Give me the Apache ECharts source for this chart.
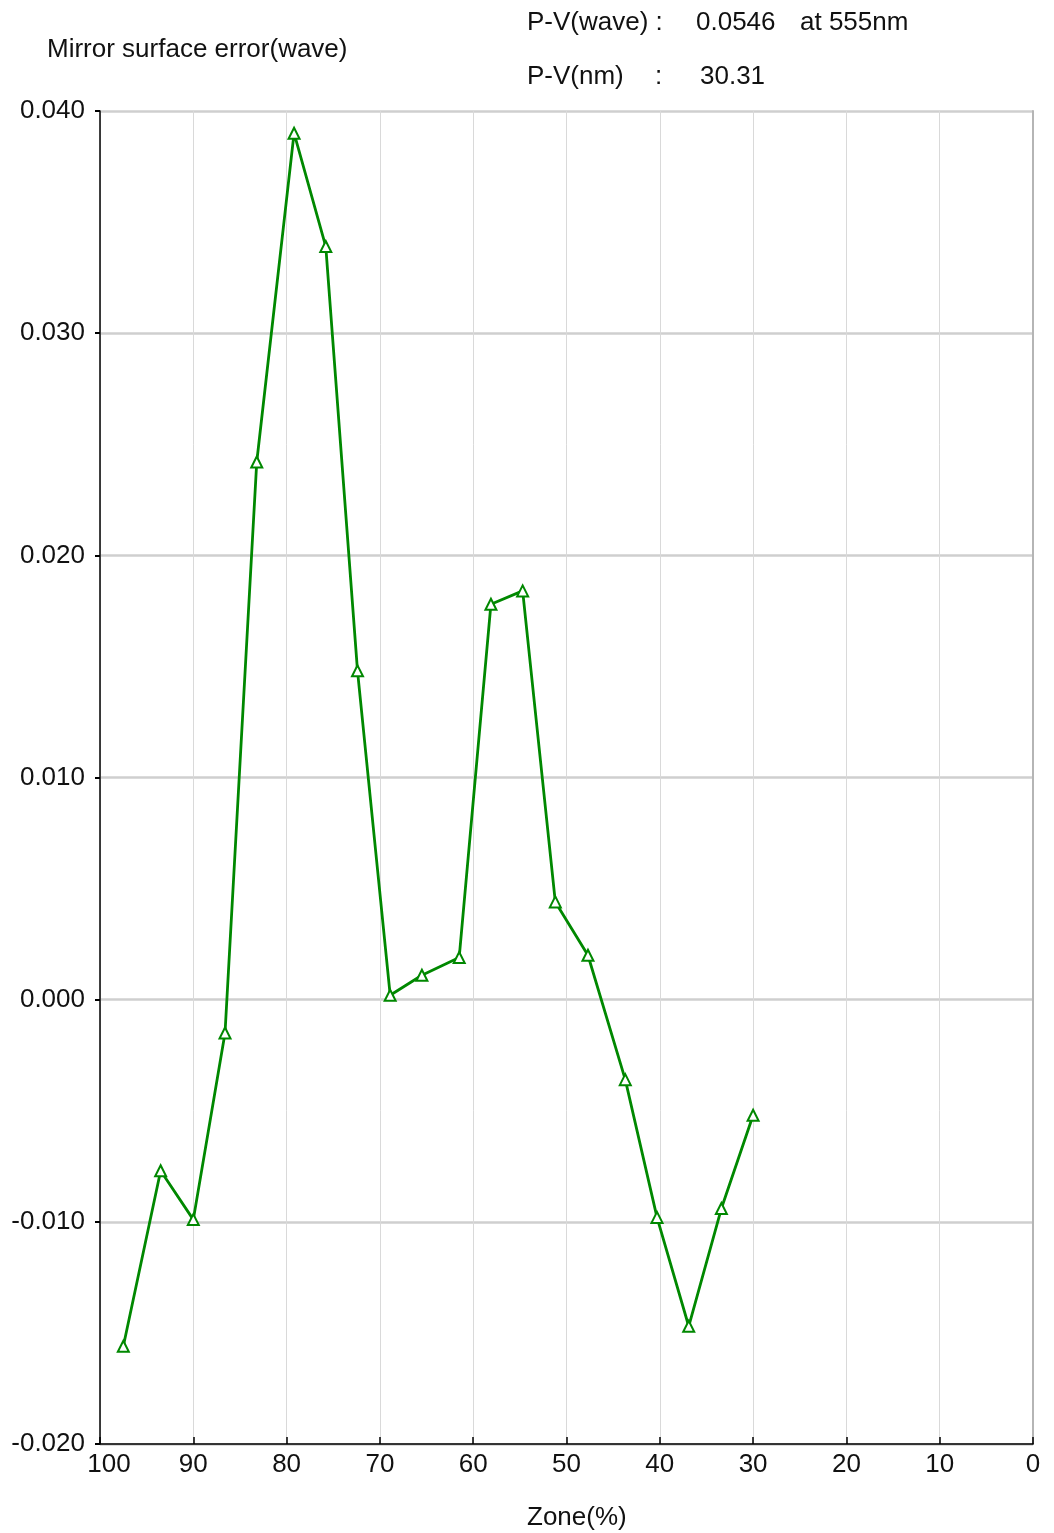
<!DOCTYPE html>
<html>
<head>
<meta charset="utf-8">
<script src="https://cdn.jsdelivr.net/npm/echarts@6/dist/echarts.min.js"></script>
<style>
  html, body { margin: 0; padding: 0; background: #fff; }
  #chart { width: 1054px; height: 1533px; }
</style>
</head>
<body>
<div id="chart"></div>
<script>
// 镜面误差曲线：横轴 Zone(%) 从 100 到 0（反向），纵轴误差（wave）
const zone = [97.5, 93.5, 90.0, 86.6, 83.2, 79.2, 75.8, 72.4, 68.9, 65.5,
              61.5, 58.1, 54.7, 51.2, 47.7, 43.7, 40.3, 36.9, 33.4, 30.0];
const surfaceError = [-0.0156, -0.0077, -0.0099, -0.0015, 0.0242, 0.0390, 0.0339, 0.0148, 0.0002, 0.0011,
                      0.0019, 0.0178, 0.0184, 0.0044, 0.0020, -0.0036, -0.0098, -0.0147, -0.0094, -0.0052];
const xTicks = [100, 90, 80, 70, 60, 50, 40, 30, 20, 10, 0];
const yTicks = [-0.020, -0.010, 0.000, 0.010, 0.020, 0.030, 0.040];

const FONT = "'Liberation Sans', Arial, sans-serif";
const FS = 26;
const TXT = '#111';

const chart = echarts.init(document.getElementById('chart'));
chart.setOption({
  animation: false,
  backgroundColor: '#fff',
  textStyle: { fontFamily: FONT },
  grid: { left: 100, right: 21, top: 111, bottom: 89 },
  xAxis: {
    type: 'value',
    inverse: true,
    min: xTicks[xTicks.length - 1],
    max: xTicks[0],
    interval: 10,
    axisLine: { onZero: false, lineStyle: { color: '#000', width: 1.5 } },
    axisTick: { inside: true, length: 7, lineStyle: { color: '#000', width: 1.5 } },
    axisLabel: {
      color: TXT, fontSize: FS, margin: 8,
      formatter: (v) => v === 100 ? '{first|100}' : String(v),
      rich: { first: { fontSize: FS, color: TXT, padding: [0, 0, 0, 18] } },
    },
    splitLine: { show: true, lineStyle: { color: '#d9d9d9', width: 1 } },
  },
  yAxis: [{
    type: 'value',
    position: 'left',
    min: yTicks[0],
    max: yTicks[yTicks.length - 1],
    interval: 0.01,
    axisLine: { show: true, onZero: false, lineStyle: { color: '#000', width: 1.5 } },
    axisTick: { show: true, length: 5, lineStyle: { color: '#000', width: 2 } },
    axisLabel: { color: TXT, fontSize: FS, margin: 15, formatter: (v) => v.toFixed(3) },
    splitLine: { show: true, lineStyle: { color: '#cfcfcf', width: 2.5 } },
  }, {
    type: 'value',
    position: 'right',
    min: yTicks[0],
    max: yTicks[yTicks.length - 1],
    axisLine: { show: true, onZero: false, lineStyle: { color: '#b5b5b5', width: 2 } },
    axisTick: { show: false },
    axisLabel: { show: false },
    splitLine: { show: false },
  }],
  graphic: [
    { type: 'text', left: 47, top: 37, style: { text: 'Mirror surface error(wave)', font: FS + 'px ' + FONT, fill: TXT } },
    { type: 'text', left: 527, top: 10, style: { text: 'P-V(wave) :', font: FS + 'px ' + FONT, fill: TXT } },
    { type: 'text', left: 696, top: 10, style: { text: '0.0546', font: FS + 'px ' + FONT, fill: TXT } },
    { type: 'text', left: 800, top: 10, style: { text: 'at 555nm', font: FS + 'px ' + FONT, fill: TXT } },
    { type: 'text', left: 527, top: 64, style: { text: 'P-V(nm)', font: FS + 'px ' + FONT, fill: TXT } },
    { type: 'text', left: 655, top: 64, style: { text: ':', font: FS + 'px ' + FONT, fill: TXT } },
    { type: 'text', left: 700, top: 64, style: { text: '30.31', font: FS + 'px ' + FONT, fill: TXT } },
    { type: 'text', left: 527, top: 1505, style: { text: 'Zone(%)', font: FS + 'px ' + FONT, fill: TXT } },
  ],
  series: [{
    type: 'line',
    yAxisIndex: 0,
    data: zone.map((z, i) => [z, surfaceError[i]]),
    symbol: 'emptyTriangle',
    symbolSize: 11,
    lineStyle: { color: '#008800', width: 2.8 },
    itemStyle: { color: '#008800', borderWidth: 2.5 },
  }],
});
</script>
</body>
</html>
